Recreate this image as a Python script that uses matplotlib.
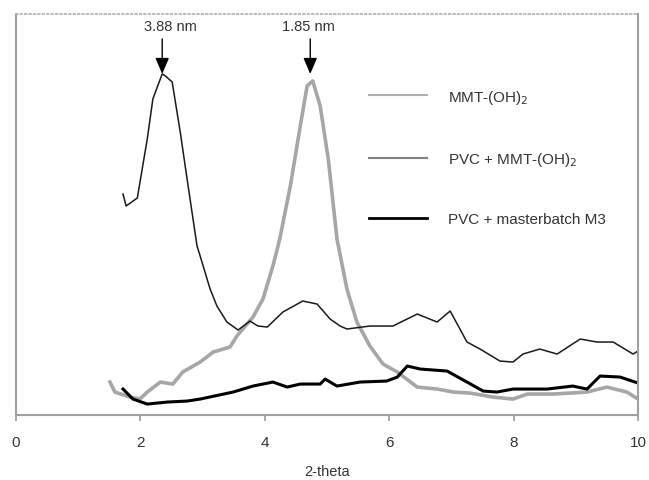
import matplotlib.pyplot as plt

plt.rcParams['font.family'] = ['Liberation Sans', 'DejaVu Sans']

# MMT-(OH)2 (thick grey)
theta_mmt = [1.51, 1.59, 1.83, 1.99, 2.11, 2.32, 2.52, 2.68, 2.96, 3.17, 3.44, 3.55,
             3.81, 3.97, 4.13, 4.24, 4.41, 4.57, 4.68, 4.77, 4.89, 5.02, 5.16, 5.32,
             5.48, 5.69, 5.90, 6.13, 6.45, 6.77, 7.03, 7.30, 7.67, 7.99, 8.22, 8.63,
             9.18, 9.50, 9.82, 10.0]
int_mmt = [33, 23, 18, 16, 23, 33, 31, 43, 53, 63, 68, 79,
           98, 116, 149, 176, 229, 289, 329, 334, 309, 256, 176, 126,
           93, 69, 51, 43, 28, 26, 23, 22, 18, 16, 21, 21,
           23, 28, 23, 16]

# PVC + MMT-(OH)2 (thin black)
theta_pvc = [1.72, 1.77, 1.95, 2.11, 2.20, 2.35, 2.40, 2.51, 2.64, 2.75, 2.91, 2.96,
             3.12, 3.23, 3.39, 3.57, 3.76, 3.89, 4.04, 4.29, 4.61, 4.84, 5.05, 5.21,
             5.32, 5.69, 6.06, 6.45, 6.77, 6.98, 7.25, 7.46, 7.78, 7.99, 8.15, 8.42,
             8.70, 9.07, 9.34, 9.60, 9.92, 10.0]
int_pvc = [221, 209, 217, 276, 316, 341, 339, 333, 283, 236, 169, 159,
           126, 109, 93, 85, 94, 89, 88, 103, 114, 111, 96, 89,
           86, 89, 89, 101, 93, 104, 73, 66, 54, 53, 61, 66,
           61, 76, 73, 73, 61, 64]

# PVC + masterbatch M3 (thick black)
theta_m3 = [1.72, 1.88, 2.11, 2.43, 2.75, 2.96, 3.49, 3.81, 4.13, 4.36, 4.57, 4.89,
            4.97, 5.05, 5.16, 5.53, 5.96, 6.13, 6.29, 6.50, 6.93, 7.25, 7.51, 7.73,
            7.99, 8.54, 8.95, 9.18, 9.39, 9.71, 10.0]
int_m3 = [26, 16, 11, 13, 14, 16, 23, 29, 33, 28, 31, 31,
          36, 33, 29, 33, 34, 38, 49, 46, 44, 33, 24, 23,
          26, 26, 29, 26, 39, 38, 32]

# peak labels: (text, text x, arrow x)
peaks = [('3.88 nm', 2.48, 2.35), ('1.85 nm', 4.70, 4.73)]

fig = plt.figure(figsize=(6.49, 4.81), dpi=100)
ax = fig.add_axes([0.0247, 0.135, 0.9584, 0.834])

ax.plot(theta_mmt, int_mmt, color='#a6a6a6', lw=2.6, label='MMT-(OH)$_2$')
ax.plot(theta_pvc, int_pvc, color='#1a1a1a', lw=1.1, label='PVC + MMT-(OH)$_2$')
ax.plot(theta_m3, int_m3, color='black', lw=2.2, label='PVC + masterbatch M3')

for txt, tx, px in peaks:
    ax.text(tx, 389, txt, ha='center', va='center', fontsize=10.5, color='#333333')
    ax.annotate('', xy=(px, 341), xytext=(px, 376),
                arrowprops=dict(arrowstyle='-|>,head_length=0.7,head_width=0.3',
                                color='black', lw=1, shrinkA=0, shrinkB=0,
                                mutation_scale=14))

ax.set_xlim(0, 10)
ax.set_ylim(0, 401)
ax.set_xticks([0, 2, 4, 6, 8, 10])
ax.set_yticks([])
ax.tick_params(axis='x', colors='#999999', labelcolor='#333333', labelsize=11,
               length=4, width=1.2, pad=10)
ax.set_xlabel('2-theta', fontsize=10.5, color='#333333', labelpad=11)

for s in ['left', 'bottom', 'right']:
    ax.spines[s].set_color('#a0a0a0')
    ax.spines[s].set_linewidth(1.5)
ax.spines['top'].set_color('#b0b0b0')
ax.spines['top'].set_linestyle(':')
ax.spines['top'].set_linewidth(1.2)

leg = ax.legend(loc='upper left', bbox_to_anchor=(0.545, 0.85), frameon=False,
                fontsize=11, handlelength=3.8, handletextpad=1.4, labelspacing=2.9)
for t in leg.get_texts():
    t.set_color('#333333')
legw = [1.5, 1.5, 2.0]
legc = ['#b0b0b0', '#808080', 'black']
for line, w, c in zip(leg.get_lines(), legw, legc):
    line.set_linewidth(w)
    line.set_color(c)

fig.savefig('out.png', dpi=100)
